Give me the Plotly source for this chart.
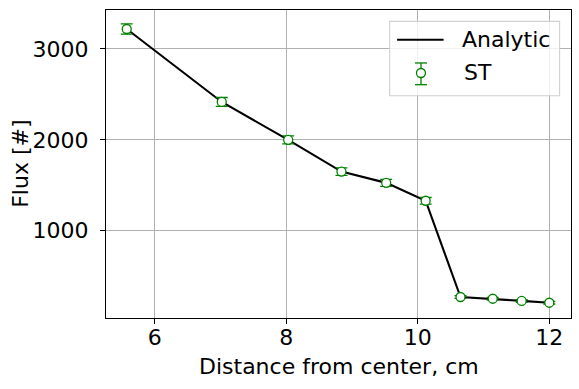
import plotly.graph_objects as go

# Data
distance_cm = [5.575, 7.02, 8.03, 8.84, 9.52, 10.12, 10.65, 11.14, 11.58, 12.0]
analytic_flux = [3220, 2417, 2000, 1651, 1527, 1330, 271, 252, 228, 208]
st_flux = [3220, 2417, 2000, 1651, 1527, 1330, 271, 252, 228, 208]
st_err = [57, 49, 45, 41, 39, 36, 16, 16, 15, 14]

x_ticks = [6, 8, 10, 12]
y_ticks = [1000, 2000, 3000]

FONT = "DejaVu Sans"
GREEN = "#008000"

fig = go.Figure()
fig.add_trace(go.Scatter(
    x=distance_cm, y=analytic_flux, mode="lines", name="Analytic",
    line=dict(color="black", width=2.1), showlegend=False,
))
fig.add_trace(go.Scatter(
    x=distance_cm, y=st_flux, mode="markers", name="ST",
    marker=dict(symbol="circle", size=9, color="white",
                line=dict(color=GREEN, width=1.3)),
    error_y=dict(type="data", array=st_err, visible=True,
                 color=GREEN, thickness=1.3, width=6),
    showlegend=False,
))

axis_common = dict(
    showline=True, linecolor="black", linewidth=1.1, mirror=True,
    ticks="outside", ticklen=5, tickwidth=1.1, tickcolor="black",
    showgrid=True, gridcolor="#b0b0b0", gridwidth=1.1,
    zeroline=False, tickfont=dict(family=FONT, size=22, color="black"),
    automargin=False,
)
fig.update_xaxes(range=[5.26, 12.33], tickvals=x_ticks,
                 ticktext=[str(v) for v in x_ticks],
                 ticklabelstandoff=-5,
                 **axis_common)
fig.update_yaxes(range=[40, 3429], tickvals=y_ticks,
                 ticktext=[str(v) for v in y_ticks],
                 ticklabelstandoff=7,
                 **axis_common)

# Custom legend (matplotlib style with error-bar glyph)
shapes = [
    dict(type="rect", xref="paper", yref="paper", x0=0.610, x1=0.9755,
         y0=0.7218, y1=0.963, line=dict(color="#d0d0d0", width=1.1),
         fillcolor="rgba(255,255,255,0.8)", layer="above"),
    dict(type="line", xref="paper", yref="paper", x0=0.626, x1=0.726,
         y0=0.9036, y1=0.9036, line=dict(color="black", width=2.1), layer="above"),
    dict(type="line", xref="paper", yref="paper", x0=0.6774, x1=0.6774,
         y0=0.7575, y1=0.828, line=dict(color=GREEN, width=1.3), layer="above"),
    dict(type="line", xref="paper", yref="paper", x0=0.6645, x1=0.6903,
         y0=0.7575, y1=0.7575, line=dict(color=GREEN, width=1.3), layer="above"),
    dict(type="line", xref="paper", yref="paper", x0=0.6645, x1=0.6903,
         y0=0.828, y1=0.828, line=dict(color=GREEN, width=1.3), layer="above"),
    dict(type="circle", xref="paper", yref="paper",
         xsizemode="pixel", ysizemode="pixel", xanchor=0.6774, yanchor=0.7955,
         x0=-4.5, x1=4.5, y0=-4.5, y1=4.5,
         line=dict(color=GREEN, width=1.3), fillcolor="white", layer="above"),
]
annotations = [
    dict(text="Analytic", xref="paper", yref="paper", x=0.762, y=0.9036,
         xanchor="left", yanchor="middle", showarrow=False,
         font=dict(family=FONT, size=22, color="black")),
    dict(text="ST", xref="paper", yref="paper", x=0.7656, y=0.7955,
         xanchor="left", yanchor="middle", showarrow=False,
         font=dict(family=FONT, size=22, color="black")),
    # axis titles
    dict(text="Distance from center, cm", xref="paper", yref="paper",
         x=0.5, y=-0.158, xanchor="center", yanchor="middle", showarrow=False,
         font=dict(family=FONT, size=22, color="black")),
    dict(text="Flux [#]", xref="paper", yref="paper", textangle=-90,
         x=-0.1854, y=0.5, xanchor="center", yanchor="middle", showarrow=False,
         font=dict(family=FONT, size=22, color="black")),
]

fig.update_layout(
    width=579, height=389,
    margin=dict(l=105.7, r=8.3, t=10.3, b=70.7),
    plot_bgcolor="white", paper_bgcolor="white",
    font=dict(family=FONT, size=22, color="black"),
    shapes=shapes, annotations=annotations, showlegend=False,
)

fig.write_html("out.html", config={"displayModeBar": False},
               post_script="document.body.style.margin='0';document.body.style.overflow='hidden';")
